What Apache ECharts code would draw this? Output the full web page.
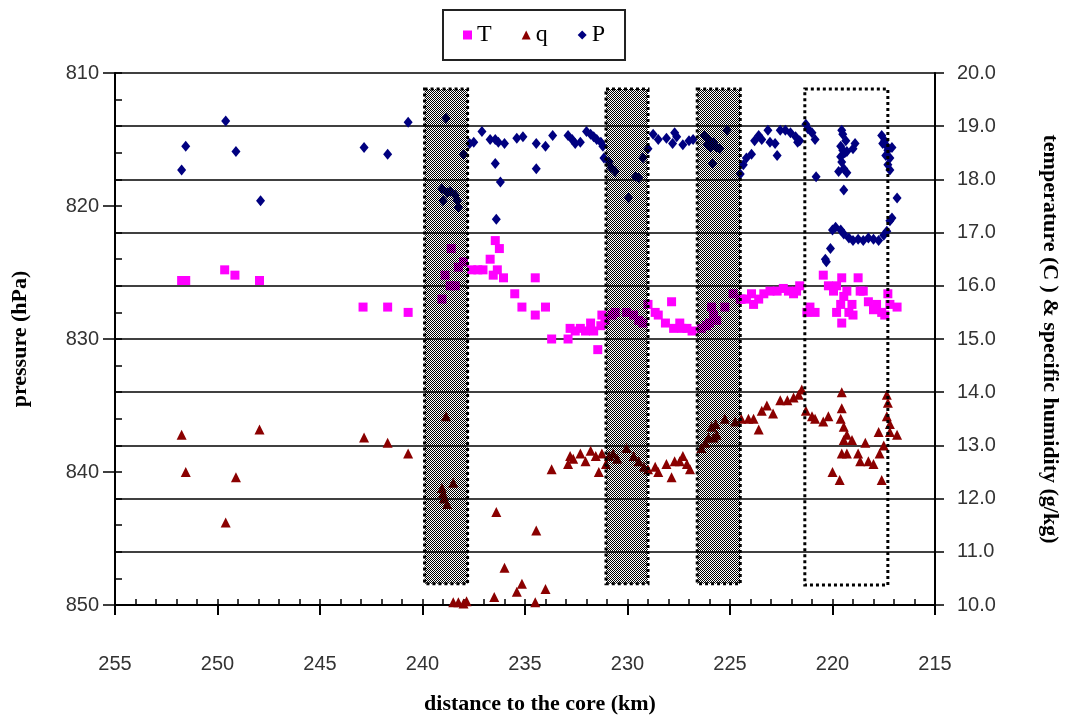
<!DOCTYPE html>
<html>
<head>
<meta charset="utf-8">
<title>P, T, q vs distance to the core</title>
<script src="https://cdn.jsdelivr.net/npm/echarts@6/dist/echarts.min.js"></script>
<style>
html, body { margin: 0; padding: 0; background: #fff; }
#chart { width: 1077px; height: 720px; }
</style>
</head>
<body>
<div id="chart"></div>
<script>
// distance to the core (km), value
const pData = [
  [251.75,817.3],[251.55,815.5],[249.6,813.6],[249.1,815.9],[247.9,819.6],[242.85,815.6],[241.7,816.1],[240.7,813.7],
  [238.85,813.4],[239.05,818.7],[238.65,818.9],[238.4,819.2],[239.0,819.6],[238.25,820.1],[238.8,819.0],[238.3,819.6],
  [238.0,816.1],[237.7,815.3],[237.5,815.2],[237.1,814.4],[236.7,815.0],[236.45,815.0],[236.3,815.2],[236.0,815.3],
  [236.45,816.8],[236.2,818.2],[236.4,821.0],[235.4,814.9],[235.1,814.8],[234.45,815.3],[234.45,817.2],[234.0,815.5],[233.65,814.7],
  [232.9,814.7],[232.7,815.0],[232.55,815.3],[232.3,815.2],[232.0,814.4],[231.8,814.6],[231.65,814.8],[231.5,815.0],[231.3,815.2],
  [231.2,815.5],[231.15,816.4],[230.9,816.7],[230.8,817.1],[230.6,817.4],
  [229.95,819.4],[229.6,817.8],[229.45,817.9],[229.25,816.4],[229.0,815.7],
  [228.75,814.6],[228.5,815.0],[228.1,814.9],[227.8,815.3],[227.7,814.5],[227.6,814.8],[227.3,815.4],[227.0,815.1],[226.8,815.0],
  [226.25,814.7],[226.05,815.0],[225.8,815.2],[225.65,815.6],[225.5,815.7],[225.85,816.8],[225.15,814.3],[226.1,815.4],[225.95,815.6],
  [224.5,817.6],[224.35,816.9],[224.2,816.4],[223.95,816.1],[223.8,815.1],[223.6,814.7],[223.45,815.0],[223.15,814.3],[223.05,815.2],
  [222.8,815.3],[222.7,816.2],[222.55,814.3],[222.3,814.3],[222.05,814.5],[221.8,814.8],[221.7,815.2],[221.6,815.1],[221.3,813.85],
  [221.2,814.2],[221.0,814.5],[220.85,815.0],[220.8,817.8],
  [219.55,814.3],[219.5,814.6],[219.35,815.1],[219.6,815.5],[219.5,815.8],[219.6,816.3],[219.3,815.9],[219.45,817.2],[219.7,817.4],
  [219.3,817.5],[219.45,818.8],[218.9,815.3],[219.0,815.7],[219.55,816.7],[219.4,816.0],
  [220.35,824.0],[220.3,824.2],[220.1,823.2],[220.0,821.8],[219.85,821.6],[219.6,821.8],[219.45,822.1],[219.2,822.4],[219.0,822.6],
  [218.75,822.5],[218.5,822.6],[218.25,822.4],[218.0,822.5],[217.75,822.6],[217.5,822.2],[217.35,821.9],[217.2,821.1],[217.1,820.9],
  [217.6,814.7],[217.45,815.1],[217.35,815.5],[217.3,815.8],[217.2,816.4],[217.3,816.9],[217.2,817.3],[217.55,815.3],[217.1,815.6],[217.4,816.2],
  [216.85,819.4]
]
const tData = [
  [251.75,16.1],[251.55,16.1],[249.65,16.3],[249.15,16.2],[247.95,16.1],[242.9,15.6],[241.7,15.6],[240.7,15.5],
  [238.6,16.7],[238.9,16.2],[238.65,16.0],[238.4,16.0],[239.05,15.75],[238.25,16.35],[238.0,16.45],
  [237.6,16.3],[237.3,16.3],[237.05,16.3],[236.7,16.5],[236.55,16.2],[236.35,16.3],[236.45,16.85],[236.25,16.7],[236.05,16.15],
  [235.5,15.85],[235.15,15.6],[234.5,16.15],[234.5,15.45],[234.0,15.6],[233.7,15.0],
  [232.9,15.0],[232.8,15.2],[232.55,15.15],[232.3,15.2],[232.05,15.15],[231.8,15.3],[231.65,15.15],[231.45,14.8],[231.3,15.25],[231.25,15.45],[231.1,15.35],
  [230.75,15.45],[230.6,15.5],[230.05,15.5],[229.7,15.45],[229.45,15.35],[229.25,15.3],
  [229.0,15.65],[228.65,15.5],[228.5,15.45],[228.15,15.3],[227.85,15.7],[227.75,15.2],[227.45,15.3],[227.35,15.2],[227.1,15.2],[226.85,15.15],
  [226.4,15.2],[226.15,15.25],[226.0,15.3],[225.8,15.45],[225.9,15.6],[225.65,15.35],[225.25,15.6],
  [224.85,15.85],[224.5,15.75],[224.2,15.75],[224.45,15.75],[223.95,15.85],[223.85,15.65],[223.6,15.75],[223.35,15.85],[223.05,15.9],
  [222.7,15.9],[222.4,15.95],[222.15,15.9],[221.9,15.85],[221.75,15.9],[221.6,16.0],
  [221.25,15.5],[220.85,15.5],[221.1,15.6],
  [220.45,16.2],[220.2,16.0],[219.95,15.9],[219.8,16.0],[219.55,16.15],[219.45,15.8],[219.6,15.65],[219.3,15.9],[219.8,15.5],[219.55,15.3],
  [219.2,15.5],[219.0,15.45],[219.05,15.65],[218.75,16.15],[218.65,15.9],[218.5,15.9],
  [218.25,15.7],[218.0,15.55],[217.85,15.65],[217.6,15.5],[217.45,15.45],[217.3,15.85],[217.2,15.65],[216.85,15.6]
]
const qData = [
  [251.75,13.2],[251.55,12.5],[249.6,11.55],[249.1,12.4],[247.95,13.3],[242.85,13.15],[241.7,13.05],[240.7,12.85],
  [238.85,13.55],[239.05,12.2],[239.0,12.1],[238.8,11.9],[238.5,12.3],[238.95,12.0],
  [238.5,10.05],[238.25,10.05],[238.0,10.03],[237.85,10.07],
  [236.4,11.75],[234.45,11.4],[236.0,10.7],[236.5,10.15],[235.4,10.25],[235.15,10.4],[234.5,10.05],[234.0,10.3],
  [233.7,12.55],[232.9,12.65],[232.8,12.8],[232.65,12.75],[232.3,12.85],[232.05,12.7],[231.8,12.9],[231.55,12.8],[231.4,12.5],
  [231.25,12.85],[231.05,12.65],[230.9,12.8],
  [230.7,12.85],[230.5,12.75],[230.05,12.95],[229.7,12.8],[229.45,12.7],[229.2,12.6],
  [229.0,12.55],[228.65,12.6],[228.5,12.5],[228.1,12.65],[227.85,12.4],[227.7,12.7],[227.45,12.7],[227.3,12.8],[227.1,12.65],[226.95,12.55],
  [226.4,12.95],[226.2,13.05],[226.05,13.15],[225.9,13.35],[225.7,13.4],[225.65,13.2],[225.25,13.5],[225.8,13.15],
  [224.75,13.45],[224.45,13.5],[224.1,13.5],[223.85,13.5],[223.6,13.3],[223.45,13.65],[223.2,13.75],[222.9,13.6],[222.55,13.85],
  [222.2,13.85],[221.9,13.9],[221.65,13.95],[221.5,14.05],
  [221.3,13.65],[221.0,13.55],[220.85,13.5],[220.45,13.45],[220.2,13.55],[219.55,14.0],[219.55,13.7],[219.6,13.5],[219.45,13.35],
  [219.3,13.2],[219.45,13.1],[219.05,13.1],[219.55,12.85],[219.3,12.85],[218.75,12.85],[218.4,13.05],[218.65,12.7],[218.25,12.7],
  [218.0,12.65],[217.7,12.85],[217.75,13.25],
  [217.35,13.95],[217.3,13.8],[217.35,13.55],[217.2,13.4],[217.2,13.25],[216.85,13.2],[217.5,13.0],[220.0,12.5],[219.65,12.35],[217.6,12.35]
]
// km ranges of the shaded boxes, and the dotted one
const shadedRanges = [[239.9, 237.8], [231.05, 229.0], [226.6, 224.5]]
const dottedRange = [221.35, 217.3]

const xTicks = { min: 215, max: 255, step: 5 }
const pTicks = { min: 810, max: 850, step: 10 }
const rTicks = { min: 10, max: 20, step: 1 }

// checker fill for the shaded boxes (half black, half see-through)
const pat = document.createElement('canvas')
pat.width = 2; pat.height = 2
const pc = pat.getContext('2d')
pc.fillStyle = '#000'
pc.fillRect(0, 0, 1, 1)
pc.fillRect(1, 1, 1, 1)

const boxTop = 811.2, boxBottom = 848.4
const areaData = shadedRanges.map(r => [
  { xAxis: r[0], yAxis: boxTop },
  { xAxis: r[1], yAxis: boxBottom }
])
areaData.push([
  { xAxis: dottedRange[0], yAxis: boxTop, itemStyle: { color: 'transparent' } },
  { xAxis: dottedRange[1], yAxis: 848.5 }
])

const tickFont = { fontFamily: 'Liberation Sans', fontSize: 20, color: '#333' }
const nameFont = { fontFamily: 'Liberation Serif', fontSize: 22, fontWeight: 'bold', color: '#000' }

const chart = echarts.init(document.getElementById('chart'))
chart.setOption({
  animation: false,
  backgroundColor: '#fff',
  grid: { left: 115, right: 142, top: 73, bottom: 107 },
  legend: {
    data: ['T', 'q', 'P'],
    left: 443, top: 10,
    padding: [13, 20, 13, 20],
    itemWidth: 9, itemHeight: 9, itemGap: 30,
    borderColor: '#222', borderWidth: 2,
    textStyle: { fontFamily: 'Liberation Serif', fontSize: 24, color: '#000' }
  },
  xAxis: [
    {
      type: 'value', inverse: true,
      min: xTicks.min, max: xTicks.max, interval: xTicks.step,
      name: 'distance to the core (km)', nameLocation: 'middle', nameGap: 88,
      nameTextStyle: Object.assign({ padding: [0, 0, 0, 30] }, nameFont),
      axisLine: { lineStyle: { color: '#000', width: 2 } },
      axisTick: { length: 10, lineStyle: { color: '#000', width: 2 } },
      axisLabel: Object.assign({ margin: 49 }, tickFont),
      splitLine: { show: false }
    },
    {
      // minor ticks, pointing inside
      type: 'value', inverse: true, position: 'bottom',
      min: xTicks.min, max: xTicks.max, interval: 1,
      axisLine: { show: false },
      axisTick: { inside: true, length: 6, lineStyle: { color: '#000', width: 1.5 } },
      axisLabel: { show: false },
      splitLine: { show: false }
    }
  ],
  yAxis: [
    {
      type: 'value', inverse: true, position: 'left',
      min: pTicks.min, max: pTicks.max, interval: pTicks.step,
      name: 'pressure (hPa)', nameLocation: 'middle', nameGap: 84, nameRotate: 90,
      nameTextStyle: nameFont,
      axisLine: { show: true, lineStyle: { color: '#000', width: 2 } },
      axisTick: { show: true, length: 12, lineStyle: { color: '#000', width: 1.5 } },
      axisLabel: Object.assign({ margin: 16 }, tickFont),
      splitLine: { show: false }
    },
    {
      type: 'value', inverse: true, position: 'left',
      min: pTicks.min, max: pTicks.max, interval: 2,
      axisLine: { show: false },
      axisTick: { show: true, inside: true, length: 7, lineStyle: { color: '#000', width: 1.5 } },
      axisLabel: { show: false },
      splitLine: { show: false }
    },
    {
      type: 'value', position: 'right',
      min: rTicks.min, max: rTicks.max, interval: rTicks.step,
      name: 'temperature (C ) & specific humidity (g/kg)', nameLocation: 'middle', nameGap: 104, nameRotate: -90,
      nameTextStyle: nameFont,
      axisLine: { show: true, lineStyle: { color: '#000', width: 2 } },
      axisTick: { show: true, length: 9, lineStyle: { color: '#000', width: 1.5 } },
      axisLabel: Object.assign({ margin: 22, formatter: v => v.toFixed(1) }, tickFont),
      splitLine: { show: true, lineStyle: { color: '#000', width: 1.5 } }
    }
  ],
  series: [
    {
      name: 'T', type: 'scatter', xAxisIndex: 0, yAxisIndex: 2,
      symbol: 'rect', symbolSize: 9,
      itemStyle: { color: '#ff00ff', opacity: 1 },
      data: tData
    },
    {
      name: 'q', type: 'scatter', xAxisIndex: 0, yAxisIndex: 2,
      symbol: 'triangle', symbolSize: [10, 10],
      itemStyle: { color: '#8b0000', opacity: 1 },
      data: qData
    },
    {
      name: 'P', type: 'scatter', xAxisIndex: 0, yAxisIndex: 0,
      symbol: 'diamond', symbolSize: [9, 11],
      itemStyle: { color: '#000080', opacity: 1 },
      data: pData
    },
    {
      // boxes drawn on top of the points
      type: 'scatter', xAxisIndex: 0, yAxisIndex: 0, data: [],
      markArea: {
        silent: true, z: 10,
        itemStyle: {
          color: { image: pat, repeat: 'repeat' },
          borderColor: '#000', borderWidth: 3, borderType: [3, 3]
        },
        data: areaData
      }
    }
  ]
})
</script>
</body>
</html>
